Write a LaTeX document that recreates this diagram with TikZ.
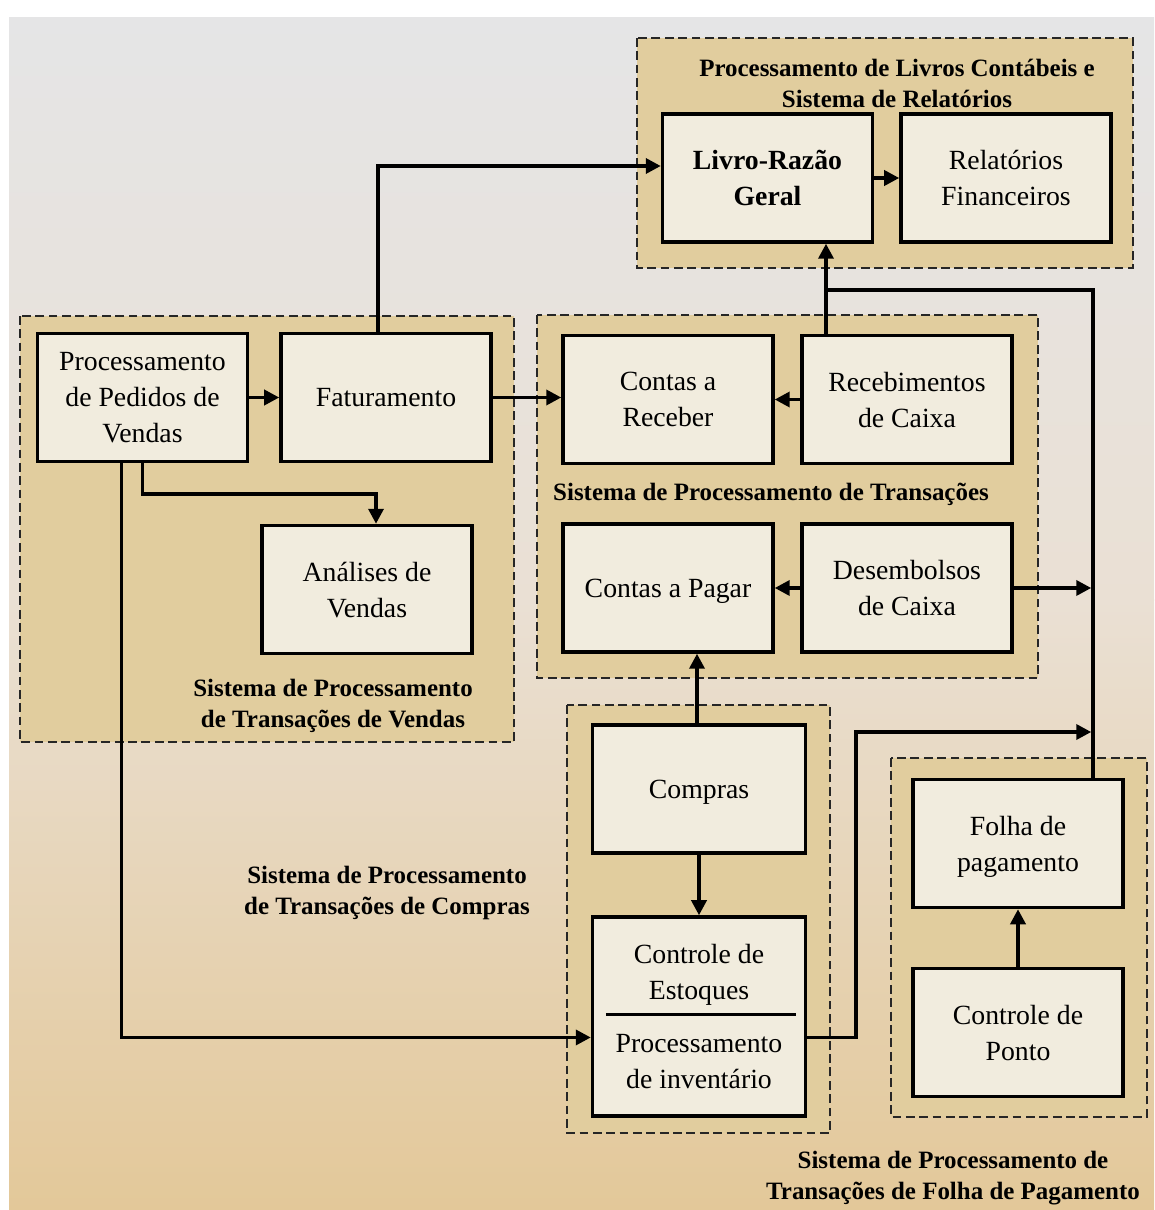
\documentclass[tikz,border=0pt]{standalone}
\usepackage{fontspec}
\setmainfont{Liberation Serif}
\usetikzlibrary{arrows.meta, positioning, calc}
\definecolor{fundoTopo}{RGB}{229,229,230}
\definecolor{fundoMeio}{RGB}{234,224,212}
\definecolor{fundoPessego}{RGB}{240,208,170}
\definecolor{fundoBaixo}{RGB}{227,200,153}
\definecolor{pergaminho}{RGB}{225,205,158}
\definecolor{creme}{RGB}{241,236,222}

\begin{document}
\begin{tikzpicture}[
        x=0.02cm, y=-0.02cm,
        caixa/.style={
            rectangle,
            draw=black,
            line width=2pt,
            fill=creme,
            minimum width=4.2cm,
            minimum height=2.56cm,
            align=center,
            inner sep=2pt,
            text depth=-2.5pt,
            font=\fontsize{15.8}{20.4}\selectfont
        },
        grupo/.style={
            draw=black!85,
            line width=1.4pt,
            dash pattern=on 5pt off 2.6pt,
            fill=pergaminho
        },
        titulo/.style={align=center, font=\fontsize{14.2}{17.6}\selectfont\bfseries},
        linha/.style={line width=2pt},
        flecha/.style={-{Triangle[length=3mm, width=3mm]}, line width=2pt}
    ]
        % fundo
        \useasboundingbox (0,0) rectangle (1154,1210);
        \shade[top color=fundoTopo, bottom color=fundoMeio] (9,17) rectangle (1154,600);
        \shade[top color=fundoMeio, middle color=fundoPessego, bottom color=fundoBaixo] (9,599) rectangle (1154,1210);

        % grupos
        \draw[grupo] (637,38) rectangle (1133,268);
        \draw[grupo] (20,316) rectangle (514,742);
        \draw[grupo] (537,315) rectangle (1038,678);
        \draw[grupo] (567,705) rectangle (830,1133);
        \draw[grupo] (891,758) rectangle (1147,1117);

        % livros contabeis
        \node[caixa] (livro) at (767.5,178) {\bfseries Livro-Razão\\\bfseries Geral};
        \node[caixa, right=0.5cm of livro] (relatorios) {Relatórios\\Financeiros};
        \node[titulo] (tituloLivros) at (897,83) {Processamento de Livros Contábeis e\\Sistema de Relatórios};

        % vendas
        \node[caixa] (pedidos) at (142.5,397.5) {Processamento\\de Pedidos de\\Vendas};
        \node[caixa, right=0.6cm of pedidos] (fatura) {Faturamento};
        \node[caixa] (analises) at (367,589.5) {Análises de\\Vendas};
        \node[titulo] (tituloVendas) at (333,706) {Sistema de Processamento\\de Transações de Vendas};

        % transacoes
        \node[caixa] (receber) at (668,399.5) {Contas a\\Receber};
        \node[caixa, right=0.51cm of receber] (recebimentos) {Recebimentos\\de Caixa};
        \node[caixa, below=1.14cm of receber] (pagar) {Contas a Pagar};
        \node[caixa, right=0.51cm of pagar] (desembolsos) {Desembolsos\\de Caixa};
        \node[titulo] (tituloTrans) at (771,494) {Sistema de Processamento de Transações};

        % compras
        \node[caixa, minimum width=4.26cm] (compras) at (699,789) {Compras};
        \node[caixa, minimum width=4.26cm, minimum height=3.98cm, below=1.21cm of compras] (estoque)
            {Controle de\\Estoques\\[10pt]Processamento\\de inventário};
        \node[titulo] (tituloCompras) at (387,893) {Sistema de Processamento\\de Transações de Compras};

        % folha de pagamento
        \node[caixa] (folha) at (1018,843.5) {Folha de\\pagamento};
        \node[caixa, below=1.15cm of folha] (ponto) {Controle de\\Ponto};
        \node[titulo] (tituloFolha) at (953,1178) {Sistema de Processamento de\\Transações de Folha de Pagamento};

        \coordinate (junta) at (826,290);
        \coordinate (canto) at (1093,290);
        \coordinate (desvio) at (856,732);

        \draw[linha] ($(estoque.west)+(15,-2)$) -- ($(estoque.east)+(-11,-2)$);

        \draw[flecha] (livro) -- (relatorios);
        \draw[flecha] (pedidos) -- (fatura);
        \draw[flecha] (fatura.east) -- (fatura.east -| receber.west);
        \draw[flecha] ($(fatura.north)+(-8,0)$) |- ($(livro.west)+(0,-12)$);
        \draw[flecha] (pedidos.south) -- ++(0,31) -| ($(analises.north)+(9,0)$);
        \draw[flecha] ($(pedidos.south)+(-21,0)$) |- ($(estoque.west)+(0,21)$);
        \draw[flecha] (recebimentos) -- (receber);
        \draw[flecha] (desembolsos) -- (pagar);
        \draw[flecha] (recebimentos.north -| junta) -- (livro.south -| junta);
        \draw[linha] (folha.north -| canto) -- (canto) -- (junta);
        \draw[flecha, shorten >=1pt] (desembolsos.east) -- (desembolsos.east -| canto);
        \draw[flecha] (compras.north -| 697,0) -- (pagar.south -| 697,0);
        \draw[flecha] (compras) -- (estoque);
        \draw[flecha, shorten >=1pt] ($(estoque.east)+(0,21)$) -| (desvio) -- (desvio -| canto);
        \draw[flecha] (ponto) -- (folha);
    \end{tikzpicture}
\end{document}
